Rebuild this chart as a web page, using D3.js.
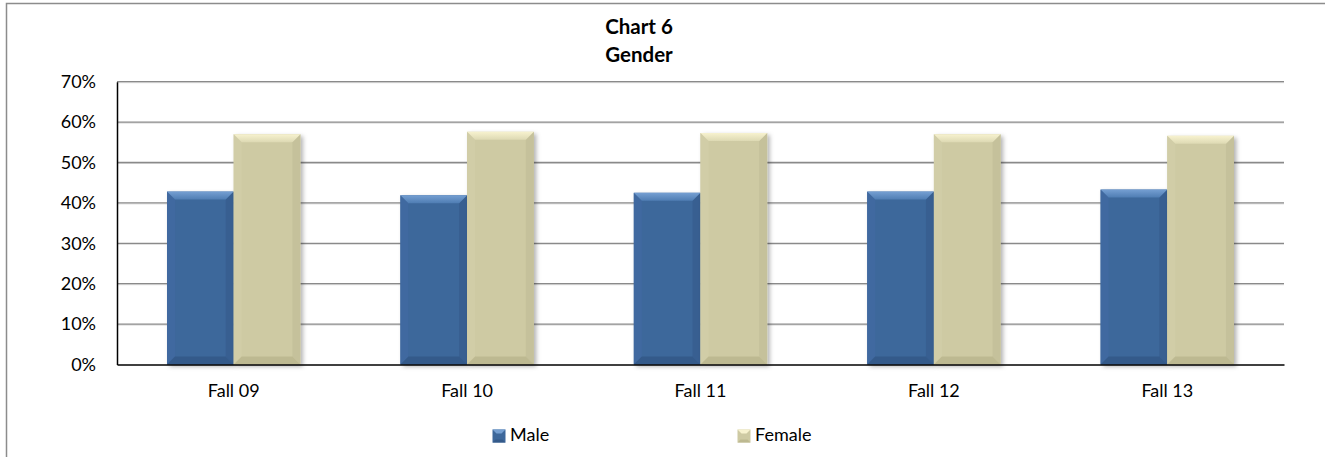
<!DOCTYPE html>
<html><head><meta charset="utf-8">
<script src="https://cdn.jsdelivr.net/npm/d3@7"></script>
<style>
body{margin:0;background:#fff}
svg{display:block}
text{font-family:Lato,"Open Sans",sans-serif;fill:#000}
</style>
</head><body>
<svg id="c" width="1325" height="457"></svg>
<script>
const categories=["Fall 09","Fall 10","Fall 11","Fall 12","Fall 13"];
const seriesNames=["Male","Female"];
const maleValues=[42.8,41.9,42.5,42.8,43.3];
const femaleValues=[57.0,57.6,57.3,57.0,56.6];
const yTicks=[0,10,20,30,40,50,60,70];
const titleLines=["Chart 6","Gender"];

const svg=d3.select("#c");
const plot={left:117,right:1284,top:81.7,bottom:364.5};

const palette={
  Male:{base:"#3D679B",top:"#759FD2",top2:"#4F7DB3",left:"#4069A0",right:"#385F91",bottom:"#345A8A"},
  Female:{base:"#CECAA3",top:"#F7F2CF",top2:"#DDD9B3",left:"#D1CDA7",right:"#C5C19B",bottom:"#BDB991"}
};

const defs=svg.append("defs");
const f=defs.append("filter").attr("id","sh").attr("x","-20%").attr("y","-10%").attr("width","150%").attr("height","130%");
f.append("feDropShadow").attr("dx",2.5).attr("dy",2).attr("stdDeviation",2).attr("flood-color","#000").attr("flood-opacity",0.3);
seriesNames.forEach(s=>{
  const g=defs.append("linearGradient").attr("id","tg"+s).attr("x1",0).attr("y1",0).attr("x2",0).attr("y2",1);
  g.append("stop").attr("offset","0%").attr("stop-color",palette[s].top);
  g.append("stop").attr("offset","100%").attr("stop-color",palette[s].top2);
});

svg.append("rect").attr("x",6.5).attr("y",3.5).attr("width",1340).attr("height",470)
  .attr("fill","none").attr("stroke","#8c8c8c").attr("stroke-width",1.5);

svg.append("text").attr("x",639).attr("y",33.5).attr("text-anchor","middle")
  .attr("font-weight","bold").attr("font-size",20.5).text(titleLines[0]);
svg.append("text").attr("x",639).attr("y",61.5).attr("text-anchor","middle")
  .attr("font-weight","bold").attr("font-size",20.5).text(titleLines[1]);

const x=d3.scaleBand().domain(categories).range([plot.left,plot.right])
  .paddingInner(1.5/3.5).paddingOuter(0.75/3.5);
const xs=d3.scaleBand().domain(seriesNames).range([0,x.bandwidth()]);
const y=d3.scaleLinear().domain([0,70]).range([plot.bottom,plot.top]);

const grid=svg.append("g");
grid.selectAll("line.g2").data(yTicks.filter(d=>d>0)).join("line").attr("class","g2")
  .attr("x1",plot.left).attr("x2",plot.right)
  .attr("y1",d=>y(d)+1).attr("y2",d=>y(d)+1)
  .attr("stroke","#dadada").attr("stroke-width",1);
grid.selectAll("line.g").data(yTicks.filter(d=>d>0)).join("line").attr("class","g")
  .attr("x1",plot.left).attr("x2",plot.right)
  .attr("y1",d=>y(d)).attr("y2",d=>y(d))
  .attr("stroke","#8a8a8a").attr("stroke-width",1.3);

const data=[];
categories.forEach((c,i)=>{
  data.push({c,s:"Male",v:maleValues[i]});
  data.push({c,s:"Female",v:femaleValues[i]});
});
const bars=svg.append("g");
data.forEach(d=>{
  const bx=x(d.c)+xs(d.s), bw=xs.bandwidth();
  const by=y(d.v), bh=y(0)-y(d.v);
  const b=Math.min(8,bh/2);
  const p=palette[d.s];
  const g=bars.append("g");
  g.append("rect").attr("x",bx).attr("y",by).attr("width",bw).attr("height",bh)
    .attr("fill",p.base).attr("filter","url(#sh)");
  const poly=(pts,fill)=>g.append("polygon").attr("points",pts.map(q=>q.join(",")).join(" ")).attr("fill",fill);
  poly([[bx,by],[bx+b,by+b],[bx+b,by+bh-b],[bx,by+bh]],p.left);
  poly([[bx+bw,by],[bx+bw-b,by+b],[bx+bw-b,by+bh-b],[bx+bw,by+bh]],p.right);
  poly([[bx,by+bh],[bx+b,by+bh-b],[bx+bw-b,by+bh-b],[bx+bw,by+bh]],p.bottom);
  poly([[bx,by],[bx+bw,by],[bx+bw-b,by+b],[bx+b,by+b]],"url(#tg"+d.s+")");
});

const yAxis=svg.append("g").attr("transform",`translate(${plot.left},0)`)
  .call(d3.axisLeft(y).tickValues(yTicks).tickSize(0).tickPadding(21).tickFormat(d=>d+"%"));
yAxis.select(".domain").attr("stroke","#000").attr("stroke-width",1.5);
yAxis.selectAll("text").attr("font-size",18).attr("font-family","Lato,'Open Sans',sans-serif").attr("fill","#000");

const xAxis=svg.append("g").attr("transform",`translate(0,${plot.bottom})`)
  .call(d3.axisBottom(x).tickSize(0).tickPadding(20));
xAxis.select(".domain").attr("stroke","#000").attr("stroke-width",1.5);
xAxis.selectAll("text").attr("font-size",18).attr("font-family","Lato,'Open Sans',sans-serif").attr("fill","#000");

const legendPos=[{s:"Male",x:492.5},{s:"Female",x:737.5}];
legendPos.forEach(l=>{
  const p=palette[l.s];
  const g=svg.append("g");
  const sx=l.x, sy=429.5, ss=13;
  g.append("rect").attr("x",sx).attr("y",sy).attr("width",ss).attr("height",ss).attr("fill",p.base);
  g.append("polygon").attr("points",`${sx},${sy} ${sx+ss},${sy} ${sx+ss-4},${sy+4} ${sx+4},${sy+4}`).attr("fill",p.top);
  g.append("polygon").attr("points",`${sx},${sy+ss} ${sx+ss},${sy+ss} ${sx+ss-3},${sy+ss-3} ${sx+3},${sy+ss-3}`).attr("fill",p.bottom);
  g.append("text").attr("x",sx+17.5).attr("y",441).attr("font-size",18).text(l.s);
});
</script>
</body></html>
